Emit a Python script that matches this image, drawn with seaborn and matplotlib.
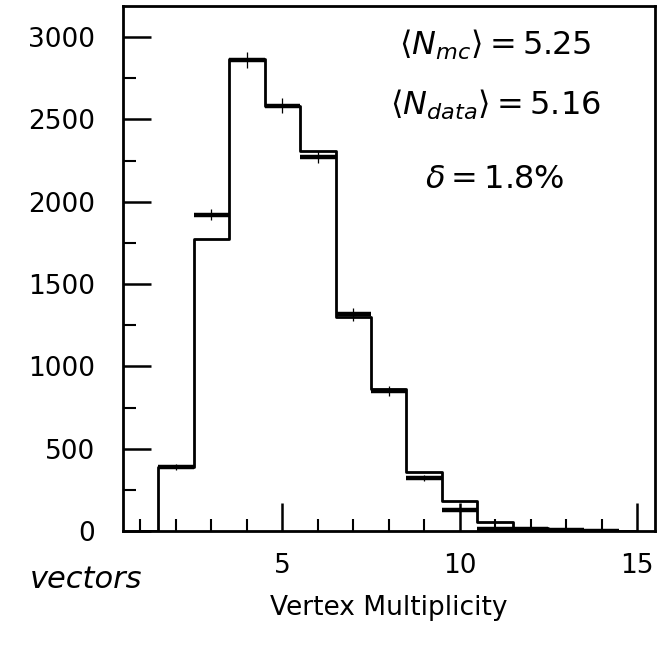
import numpy as np
import pandas as pd
import matplotlib
matplotlib.use("Agg")
import matplotlib.pyplot as plt
import seaborn as sns
from matplotlib.ticker import MultipleLocator

# ---- data ----
multiplicity = [1, 2, 3, 4, 5, 6, 7, 8, 9, 10, 11, 12, 13, 14, 15]
mc_counts = [0, 390, 1775, 2870, 2580, 2307, 1303, 860, 361, 182, 57, 20, 6, 2, 0]

data_mult = [2, 3, 4, 5, 6, 7, 8, 9, 10, 11, 12, 13, 14]
data_counts = [390, 1922, 2862, 2585, 2273, 1316, 850, 320, 128, 15, 12, 4, 1]
data_errors = [20, 35, 47, 45, 35, 40, 30, 18, 12, 4, 3, 2, 1]
bin_half_width = [0.5] * len(data_mult)

x_tick_labels = ["5", "10", "15"]
y_tick_labels = ["0", "500", "1000", "1500", "2000", "2500", "3000"]

annotations = [r"$\langle N_{mc}\rangle = 5.25$",
               r"$\langle N_{data}\rangle = 5.16$",
               r"$\delta = 1.8\%$"]

sns.set_theme(style="white")
plt.rcParams["font.family"] = ["DejaVu Sans"]

fig = plt.figure(figsize=(6.6, 6.58), dpi=100)
ax = fig.add_axes([0.186, 0.193, 0.806, 0.798])

mc_df = pd.DataFrame({"mult": multiplicity, "count": mc_counts})
sns.lineplot(data=mc_df, x="mult", y="count", estimator=None, ax=ax,
             color="black", linewidth=2.0, drawstyle="steps-mid")

# data: horizontal bin bars + vertical error bars
ax.errorbar(data_mult, data_counts, xerr=bin_half_width, fmt="none",
            ecolor="black", elinewidth=3.2, capsize=0)
ax.errorbar(data_mult, data_counts, yerr=data_errors, fmt="none",
            ecolor="black", elinewidth=0.9, capsize=0)

ax.set_xlim(0.5, 15.5)
ax.set_ylim(0, 3190)

ax.set_xticks([5, 10, 15])
ax.set_xticklabels(x_tick_labels)
ax.xaxis.set_minor_locator(MultipleLocator(1))
ax.set_yticks([0, 500, 1000, 1500, 2000, 2500, 3000])
ax.set_yticklabels(y_tick_labels)
ax.yaxis.set_minor_locator(MultipleLocator(250))

ax.tick_params(axis="both", which="major", direction="in", length=20,
               width=1.8, color="black", labelsize=19, labelcolor="black")
ax.tick_params(axis="x", which="major", pad=16)
ax.tick_params(axis="y", which="major", pad=20)
ax.tick_params(axis="both", which="minor", direction="in", length=9,
               width=1.5, color="black")
ax.tick_params(bottom=True, left=True, top=False, right=False)
ax.tick_params(which="minor", bottom=True, left=True, top=False, right=False)

for sp in ax.spines.values():
    sp.set_visible(True)
    sp.set_color("black")
    sp.set_linewidth(2.0)

ax.set_xlabel("Vertex Multiplicity", fontsize=19, labelpad=11, color="black")
ax.set_ylabel("")
ax.grid(False)

ypos = [0.926, 0.811, 0.669]
for txt, yy in zip(annotations, ypos):
    ax.text(0.70, yy, txt, transform=ax.transAxes, ha="center", va="center",
            fontsize=23, color="black")

fig.text(0.045, 1 - 580 / 658, "vectors", fontsize=22, style="italic",
         ha="left", va="center", color="black")

fig.savefig("out.png", dpi=100, facecolor="white")
